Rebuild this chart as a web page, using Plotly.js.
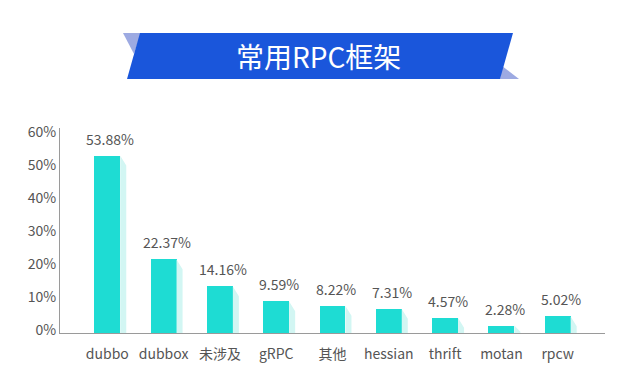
<!DOCTYPE html>
<html>
<head>
<meta charset="utf-8">
<script src="https://cdn.plot.ly/plotly-3.0.1.min.js"></script>
<style>html,body{margin:0;padding:0;background:#fff;}#chart{width:637px;height:381px;}</style>
</head>
<body>
<div id="chart"></div>
<script>
// Data
const categories = ["dubbo", "dubbox", "未涉及", "gRPC", "其他", "hessian", "thrift", "motan", "rpcw"];
const values = [53.88, 22.37, 14.16, 9.59, 8.22, 7.31, 4.57, 2.28, 5.02];
const valueLabels = ["53.88%", "22.37%", "14.16%", "9.59%", "8.22%", "7.31%", "4.57%", "2.28%", "5.02%"];
const yTicks = [0, 10, 20, 30, 40, 50, 60];
const yTickLabels = ["0%", "10%", "20%", "30%", "40%", "50%", "60%"];
const titleText = "常用RPC框架";

const W = 637, H = 381;
const M = {l: 60, r: 32, t: 128, b: 48};
const font = '"Noto Sans CJK SC", "Noto Sans", sans-serif';
const idx = categories.map((c, i) => i);

const barW = 0.46, shW = 0.107, drop = 3;
// shadow polygons
const sx = [], sy = [];
values.forEach((v, i) => {
  const x0 = i + barW / 2, x1 = x0 + shW;
  sx.push(x0, x1, x1, x0, x0, null);
  sy.push(v, Math.max(v - drop, 0.4), 0, 0, v, null);
});

const traces = [
  {type: 'scatter', x: sx, y: sy, mode: 'lines', fill: 'toself', fillcolor: '#d2f6f3',
   line: {width: 0, color: 'rgba(0,0,0,0)'}, hoverinfo: 'skip', showlegend: false},
  {type: 'bar', x: idx, y: values, width: barW, marker: {color: '#1edcd3', line: {width: 0}},
   hoverinfo: 'skip', showlegend: false}
];

const annotations = values.map((v, i) => ({
  x: i + 0.055, y: v, xref: 'x', yref: 'y', text: valueLabels[i], showarrow: false,
  yanchor: 'bottom', yshift: 5, font: {family: font, size: 14, color: '#555555'}
}));

// banner helpers (pixel -> paper)
const pw = W - M.l - M.r, ph = H - M.t - M.b;
const px = x => (x - M.l) / pw;
const py = y => (H - M.b - y) / ph;
function poly(pts) {
  return 'M' + pts.map(p => px(p[0]) + ',' + py(p[1])).join(' L') + ' Z';
}
annotations.push({
  xref: 'paper', yref: 'paper', x: px(318), y: py(56), text: titleText, showarrow: false,
  xanchor: 'center', yanchor: 'middle', font: {family: font, size: 28, color: '#ffffff'}
});

const shapes = [
  {type: 'path', xref: 'paper', yref: 'paper', path: poly([[123, 33], [141, 33], [134, 54]]),
   fillcolor: '#9daae2', line: {width: 0}, layer: 'below'},
  {type: 'path', xref: 'paper', yref: 'paper', path: poly([[502, 66], [519, 79], [500, 79]]),
   fillcolor: '#9daae2', line: {width: 0}, layer: 'below'},
  {type: 'path', xref: 'paper', yref: 'paper', path: poly([[140, 33], [513, 33], [500, 79], [127, 79]]),
   fillcolor: '#1a56db', line: {width: 0}, layer: 'below'}
];

const layout = {
  width: W, height: H, margin: M,
  paper_bgcolor: '#ffffff', plot_bgcolor: '#ffffff',
  showlegend: false,
  font: {family: font, size: 14, color: '#555555'},
  xaxis: {type: 'linear', range: [-0.84, 8.84], tickvals: idx, ticktext: categories,
    showgrid: false, zeroline: false, showline: true, linecolor: '#9a9a9a', linewidth: 1,
    ticks: '', ticklabelstandoff: 8, tickfont: {family: font, size: 14, color: '#555555'}, fixedrange: true},
  yaxis: {range: [0, 62.3], tickvals: yTicks, ticktext: yTickLabels, showgrid: false, zeroline: false,
    showline: true, linecolor: '#9a9a9a', linewidth: 1, ticks: '', ticklabelshift: -3,
    tickfont: {family: font, size: 14, color: '#555555'}, fixedrange: true},
  annotations: annotations,
  shapes: shapes,
  bargap: 0
};

Plotly.newPlot('chart', traces, layout, {displayModeBar: false, staticPlot: true});
</script>
</body>
</html>
